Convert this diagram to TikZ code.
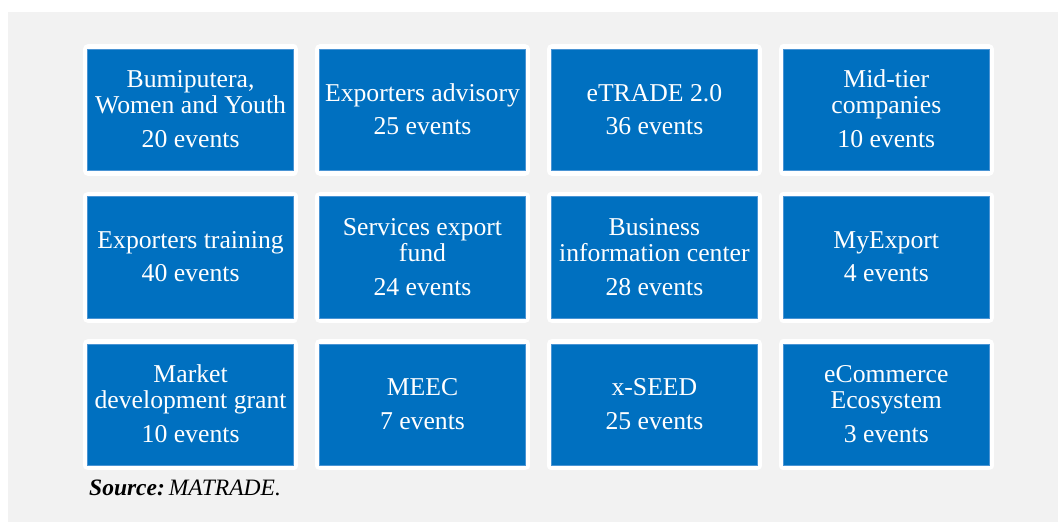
\documentclass[tikz,border=0pt]{standalone}
\usepackage{fontspec}
\setmainfont{Liberation Serif}
\usetikzlibrary{calc}
\definecolor{panelgray}{HTML}{F2F2F2}
\definecolor{cellblue}{HTML}{0070C0}
\definecolor{celledge}{HTML}{4A94D4}
\begin{document}
\begin{tikzpicture}[x=1pt,y=-1pt,
  cell/.style={fill=cellblue, draw=celledge, line width=0.8pt,
    minimum width=205.6pt, minimum height=121.4pt, inner sep=0pt,
    preaction={draw=white, line width=10pt, line join=round}},
  txt/.style={text=white, anchor=base, inner sep=0pt,
    font=\fontsize{25.7}{26}\selectfont},
  srcnote/.style={anchor=base west, inner sep=0pt,
    font=\fontsize{23.5}{26}\selectfont}]
% page and grey panel
\useasboundingbox (0,0) rectangle (1058,522);
\fill[white] (0,0) rectangle (1058,522);
\fill[panelgray] (8,12) rectangle (1058,522);

% row 1
\node[cell] (b1) at (190.6,110) {};
\node[txt] (b1a) at ($(b1.center)+(0,-22.3)$) {Bumiputera,};
\node[txt] (b1b) at ($(b1.center)+(0,3.7)$) {Women and Youth};
\node[txt] (b1c) at ($(b1.center)+(0,37.7)$) {20 events};

\node[cell] (b2) at (422.5,110) {};
\node[txt] (b2a) at ($(b2.center)+(0,-9)$) {Exporters advisory};
\node[txt] (b2c) at ($(b2.center)+(0,24.3)$) {25 events};

\node[cell] (b3) at (654.4,110) {};
\node[txt] (b3a) at ($(b3.center)+(0,-9)$) {eTRADE 2.0};
\node[txt] (b3c) at ($(b3.center)+(0,24.3)$) {36 events};

\node[cell] (b4) at (886.3,110) {};
\node[txt] (b4a) at ($(b4.center)+(0,-22.3)$) {Mid-tier};
\node[txt] (b4b) at ($(b4.center)+(0,3.7)$) {companies};
\node[txt] (b4c) at ($(b4.center)+(0,37.7)$) {10 events};

% row 2
\node[cell] (b5) at (190.6,257.3) {};
\node[txt] (b5a) at ($(b5.center)+(0,-9)$) {Exporters training};
\node[txt] (b5c) at ($(b5.center)+(0,24.3)$) {40 events};

\node[cell] (b6) at (422.5,257.3) {};
\node[txt] (b6a) at ($(b6.center)+(0,-22.3)$) {Services export};
\node[txt] (b6b) at ($(b6.center)+(0,3.7)$) {fund};
\node[txt] (b6c) at ($(b6.center)+(0,37.7)$) {24 events};

\node[cell] (b7) at (654.4,257.3) {};
\node[txt] (b7a) at ($(b7.center)+(0,-22.3)$) {Business};
\node[txt] (b7b) at ($(b7.center)+(0,3.7)$) {information center};
\node[txt] (b7c) at ($(b7.center)+(0,37.7)$) {28 events};

\node[cell] (b8) at (886.3,257.3) {};
\node[txt] (b8a) at ($(b8.center)+(0,-9)$) {MyExport};
\node[txt] (b8c) at ($(b8.center)+(0,24.3)$) {4 events};

% row 3
\node[cell] (b9) at (190.6,404.7) {};
\node[txt] (b9a) at ($(b9.center)+(0,-22.3)$) {Market};
\node[txt] (b9b) at ($(b9.center)+(0,3.7)$) {development grant};
\node[txt] (b9c) at ($(b9.center)+(0,37.7)$) {10 events};

\node[cell] (b10) at (422.5,404.7) {};
\node[txt] (b10a) at ($(b10.center)+(0,-9)$) {MEEC};
\node[txt] (b10c) at ($(b10.center)+(0,24.3)$) {7 events};

\node[cell] (b11) at (654.4,404.7) {};
\node[txt] (b11a) at ($(b11.center)+(0,-9)$) {x-SEED};
\node[txt] (b11c) at ($(b11.center)+(0,24.3)$) {25 events};

\node[cell] (b12) at (886.3,404.7) {};
\node[txt] (b12a) at ($(b12.center)+(0,-22.3)$) {eCommerce};
\node[txt] (b12b) at ($(b12.center)+(0,3.7)$) {Ecosystem};
\node[txt] (b12c) at ($(b12.center)+(0,37.7)$) {3 events};

% source line
\node[srcnote] (src) at (89,495) {\textbf{\textit{Source:}}\,\textit{MATRADE.}};
\end{tikzpicture}
\end{document}
